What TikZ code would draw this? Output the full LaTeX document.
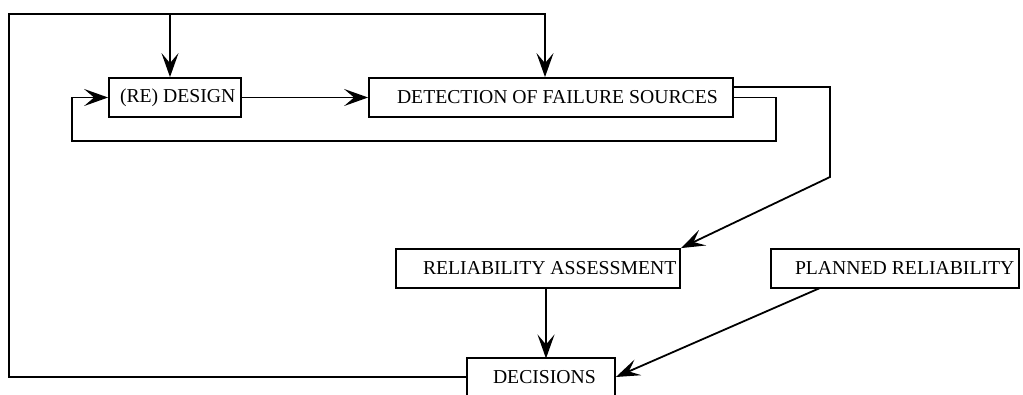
\documentclass[tikz,border=0pt]{standalone}
\usepackage{fontspec}
\setmainfont{Liberation Serif}
\usetikzlibrary{arrows.meta}
\begin{document}
\begin{tikzpicture}[x=1pt,y=-1pt,
  line width=1.8pt,
  box/.style={draw, rectangle, inner sep=0pt, minimum height=39pt},
  lbl/.style={anchor=west, inner sep=0pt, font=\fontsize{19.7}{23}\selectfont},
  arr/.style={-{Stealth[length=24pt,width=17pt,inset=10pt]}}]
\useasboundingbox (0,0) rectangle (1023,394);
\clip (0,0) rectangle (1023,394);
% boxes
\node[box, minimum width=132pt] (redesign) at (175,97.5) {};
\node[lbl] (redesignT) at ([xshift=11pt]redesign.west) {(RE) DESIGN};
\node[box, minimum width=364pt] (det) at (551,97.5) {};
\node[lbl] (detT) at ([xshift=28pt]det.west) {DETECTION OF FAILURE SOURCES};
\node[box, minimum width=284pt] (ra) at (538,268.5) {};
\node[lbl] (raT) at ([xshift=27pt]ra.west) {RELIABILITY ASSESSMENT};
\node[box, minimum width=248pt] (pr) at (895,268.5) {};
\node[lbl] (prT) at ([xshift=24pt]pr.west) {PLANNED RELIABILITY};
\node[box, minimum width=148pt, minimum height=38pt] (dec) at (541,377) {};
\node[lbl] (decT) at ([xshift=26pt]dec.west) {DECISIONS};
% coordinates
\coordinate (tl) at (9,14);
\coordinate (bl) at (9,377);
\coordinate (t1) at (170,14);
\coordinate (t2) at (545,14);
\coordinate (r1) at (830,87);
\coordinate (r2) at (830,177);
\coordinate (l1) at (776,97.5);
\coordinate (l2) at (776,141);
\coordinate (l3) at (72,141);
\coordinate (l4) at (72,97.5);
% connectors
\draw (dec.west) -- (bl) -- (tl) -- (t1);
\draw[arr] (t1) -- (t2) -- (t2 |- det.north);
\draw[arr] (t1) -- (t1 |- redesign.north);
\draw[arr] (redesign.east) -- (det.west);
\draw[arr] (det.east) -- (l1) -- (l2) -- (l3) -- (l4) -- (redesign.west);
\draw[arr] ([yshift=10.5pt]det.east) -- (r1) -- (r2) -- (ra.north east);
\draw[arr] (546,288) -- (546,358.5);
\draw[arr] (820,288) -- (dec.east);
\end{tikzpicture}
\end{document}
